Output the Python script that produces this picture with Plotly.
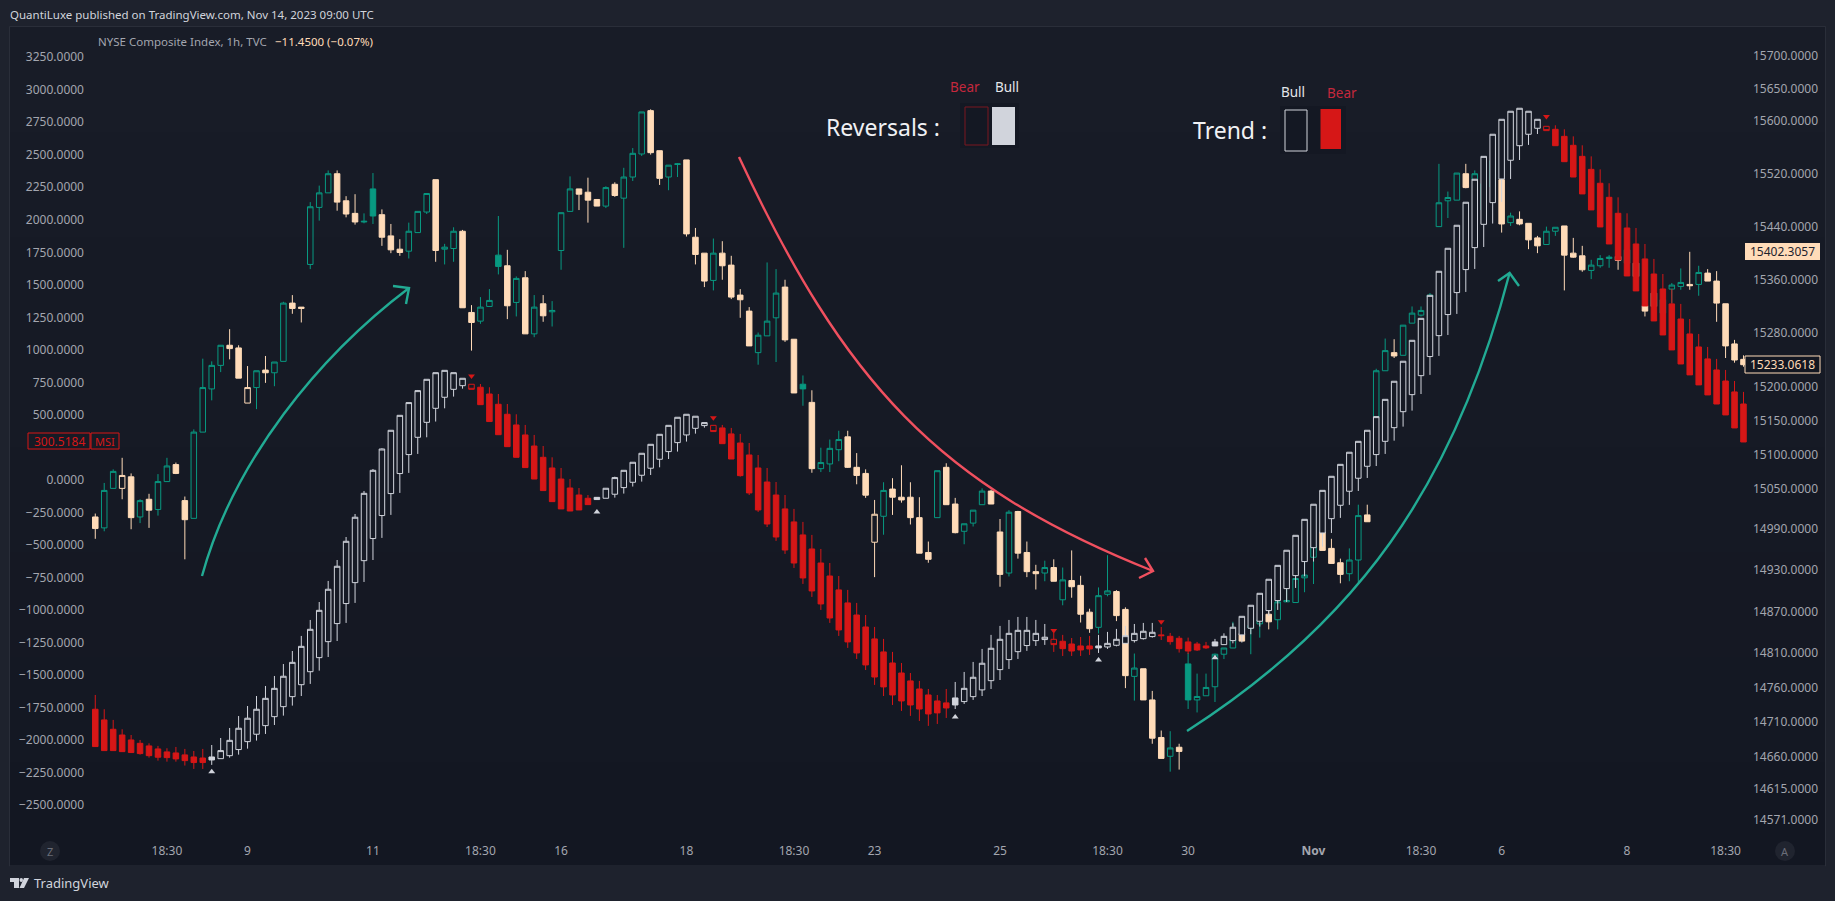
import plotly.graph_objects as go

# ---------- data ----------
price_kind = ("bggBbgbggb" "bggggbbBgb" "ggbbgggbbb" "gGbbbgggbg" "gbbggGbgbg"
              "bgggbbbgbg" "ggbbggbbbg" "bbbbgggbbG" "bgggbbbBgb" "bbbbgbbggg"
              "bbgbbbgbgb" "bbggbbgbbb" "gbGgggggbg" "gbgggggbbb" "ggbggbgggg"
              "gggbgggbgb" "bbggbbbggg" "bgbbbggg" "bg" "bbbbb")
price_top = [15008,15047,15075,15069,15067,15032,15034,15060,15083,15085,
 15032,15133,15199,15232,15262,15262,15258,15199,15224,15225,
 15237,15325,15325,15319,15470,15491,15520,15520,15479,15460,
 15448,15497,15458,15426,15406,15433,15463,15490,15511,15409,
 15433,15433,15311,15319,15329,15397,15381,15362,15363,15319,
 15324,15314,15461,15497,15497,15492,15481,15499,15504,15515,
 15551,15614,15616,15555,15533,15535,15541,15424,15400,15400,
 15400,15382,15337,15313,15277,15298,15340,15349,15271,15204,
 15177,15088,15109,15122,15126,15081,15072,15012,15047,15049,
 15037,15037,15007,14956,15076,15081,15027,14998,15018,15046,
 15046,14986,15015,15016,14956,14928,14934,14934,14916,14915,
 14908,14869,14893,14900,14899,14873,14788,14787,14742,14688,
 14673,14674,14794,14747,14760,14808,14817,14830,14838,14850,
 14858,14866,14884,14886,14918,14923,14965,14986,14962,14941,
 14945,15010,15011,15224,15254,15251,15292,15310,15314,15337,
 15476,15484,15521,15520,15520,15505,15540,15511,15456,15451,
 15445,15423,15433,15439,15441,15400,15396,15382,15392,15394,
 15395,15405,15385,15321,15340,15330,15352,15356,15353,15371,
 15370,15358,15324,15264,15241]
price_bottom = [14991,14992,15050,15050,15007,15008,15018,15019,15060,15072,
 15004,15006,15133,15197,15232,15257,15213,15176,15199,15221,
 15221,15238,15317,15317,15383,15469,15491,15477,15459,15447,
 15447,15456,15424,15405,15401,15403,15431,15462,15404,15406,
 15407,15318,15296,15298,15320,15380,15321,15326,15279,15279,
 15306,15312,15404,15463,15489,15480,15471,15471,15487,15483,
 15515,15550,15552,15513,15515,15534,15429,15398,15358,15359,
 15381,15334,15330,15261,15251,15276,15303,15270,15191,15197,
 15079,15079,15086,15107,15081,15069,15040,14971,15009,15037,
 15033,15007,14955,14946,15007,15026,14985,14987,14999,15026,
 15027,14924,14926,14955,14928,14925,14926,14914,14887,14906,
 14866,14845,14847,14895,14864,14777,14776,14742,14687,14658,
 14661,14668,14742,14742,14748,14761,14808,14817,14827,14846,
 14852,14855,14858,14884,14883,14919,14949,14959,14940,14924,
 14925,14945,15001,15156,15224,15246,15247,15295,15307,15334,
 15440,15479,15480,15499,15511,15465,15500,15444,15446,15444,
 15420,15411,15413,15433,15397,15394,15375,15374,15381,15392,
 15389,15385,15365,15313,15320,15310,15346,15350,15351,15353,
 15358,15325,15261,15240,15233]
price_high = [15013,15058,15078,15095,15072,15034,15042,15071,15095,15088,
 15038,15137,15242,15238,15262,15286,15262,15231,15224,15246,
 15237,15327,15337,15319,15477,15502,15525,15525,15486,15489,
 15460,15521,15466,15444,15421,15446,15463,15490,15511,15414,
 15439,15435,15322,15334,15346,15456,15405,15365,15373,15337,
 15337,15328,15461,15516,15497,15514,15481,15501,15507,15529,
 15559,15614,15618,15555,15533,15536,15541,15438,15400,15422,
 15418,15396,15346,15319,15281,15386,15376,15360,15271,15217,
 15195,15110,15122,15135,15135,15102,15078,15033,15059,15065,
 15084,15059,15037,14972,15076,15087,15036,14998,15018,15050,
 15048,15005,15018,15017,14972,14938,14944,14946,14934,14959,
 14922,14874,14905,14952,14901,14876,14809,14787,14755,14698,
 14697,14679,14810,14780,14780,14809,14817,14855,14838,14855,
 14865,14872,14887,14904,14923,14945,14967,14998,14976,14947,
 14962,15026,15026,15227,15272,15271,15292,15320,15320,15340,
 15535,15493,15521,15535,15525,15510,15545,15511,15461,15463,
 15445,15426,15440,15439,15441,15423,15411,15390,15397,15397,
 15397,15405,15385,15321,15340,15330,15355,15377,15402,15381,
 15376,15373,15324,15270,15247]
price_low = [14976,14987,15050,15034,14990,14999,14992,15010,15060,15071,
 14946,15006,15133,15180,15222,15241,15213,15176,15167,15206,
 15201,15238,15309,15296,15376,15449,15491,15464,15454,15443,
 15445,15444,15411,15400,15396,15392,15431,15459,15387,15383,
 15387,15318,15254,15294,15320,15368,15301,15305,15279,15274,
 15297,15290,15375,15463,15465,15446,15471,15468,15485,15408,
 15509,15547,15549,15503,15495,15515,15425,15383,15349,15344,
 15360,15331,15303,15261,15233,15276,15237,15267,15191,15172,
 15073,15074,15074,15090,15080,15056,15036,14920,14982,15011,
 15029,14997,14955,14941,15007,15026,14984,14968,14994,15026,
 15027,14906,14921,14947,14920,14902,14914,14914,14879,14890,
 14854,14839,14838,14892,14856,14759,14741,14742,14679,14658,
 14639,14642,14729,14724,14748,14739,14801,14817,14827,14808,
 14832,14844,14844,14884,14883,14898,14910,14959,14940,14911,
 14914,14913,15001,15156,15224,15243,15247,15295,15305,15330,
 15440,15453,15480,15498,15511,15455,15490,15431,15441,15442,
 15406,15400,15413,15426,15344,15393,15372,15361,15378,15378,
 15375,15385,15365,15305,15320,15310,15325,15345,15345,15336,
 15358,15297,15243,15236,15230]

msi_kind = ("R"*13 + "W" + "h"*28 + "r" + "R"*13 + "W" + "h"*12 + "r" + "R"*26 + "W" +
            "h"*10 + "r" + "R"*4 + "W" + "h"*6 + "R"*6 + "W" + "h"*36 + "r" + "R"*22)
msi_top = [-1765,-1847,-1919,-1963,-2001,-2027,-2047,-2070,-2093,-2101,
 -2116,-2132,-2140,-2132,-2083,-2004,-1911,-1834,-1765,-1681,
 -1604,-1511,-1404,-1281,-1150,-1004,-842,-665,-473,-288,
 -104,73,237,381,496,594,686,773,824,842,
 824,781,735,712,660,581,504,422,345,260,
 173,91,6,-63,-117,-142,-135,-65,17,73,
 135,204,273,350,419,481,504,489,440,419,
 399,353,283,191,91,-17,-117,-224,-324,-424,
 -532,-640,-740,-847,-947,-1040,-1132,-1224,-1324,-1409,
 -1486,-1547,-1609,-1655,-1701,-1716,-1678,-1604,-1519,-1411,
 -1296,-1227,-1181,-1158,-1158,-1181,-1211,-1227,-1242,-1263,
 -1278,-1278,-1278,-1258,-1227,-1199,-1181,-1165,-1173,-1193,
 -1204,-1219,-1247,-1263,-1278,-1247,-1204,-1134,-1050,-965,
 -873,-765,-658,-542,-427,-304,-188,-81,27,119,
 212,296,381,486,619,758,912,1073,1242,1419,
 1604,1781,1958,2135,2312,2488,2658,2773,2835,2858,
 2835,2773,2719,2696,2642,2573,2488,2388,2281,2173,
 2050,1937,1814,1699,1583,1468,1353,1237,1122,1022,
 930,845,760,676,583]
msi_bottom = [-2052,-2083,-2083,-2091,-2098,-2106,-2122,-2134,-2137,-2147,
 -2160,-2175,-2175,-2155,-2145,-2122,-2075,-2014,-1957,-1891,
 -1822,-1745,-1668,-1576,-1476,-1368,-1245,-1106,-952,-791,
 -622,-452,-275,-106,48,194,327,442,550,635,
 696,724,696,578,448,347,255,173,94,6,
 -83,-168,-224,-240,-232,-191,-152,-142,-111,-60,
 -19,35,89,158,217,286,345,396,417,371,
 278,160,32,-101,-232,-340,-440,-540,-640,-755,
 -855,-955,-1063,-1155,-1247,-1332,-1424,-1517,-1593,-1655,
 -1701,-1732,-1763,-1801,-1793,-1755,-1732,-1706,-1668,-1616,
 -1545,-1460,-1383,-1322,-1275,-1237,-1229,-1268,-1299,-1317,
 -1309,-1301,-1293,-1286,-1273,-1258,-1237,-1222,-1206,-1199,
 -1245,-1299,-1317,-1309,-1293,-1278,-1268,-1237,-1193,-1142,
 -1088,-1006,-929,-837,-737,-629,-522,-409,-299,-196,
 -88,12,104,194,296,401,524,655,801,948,
 1109,1271,1440,1617,1786,1965,2132,2314,2458,2570,
 2658,2704,2686,2570,2447,2329,2199,2076,1945,1814,
 1691,1568,1453,1337,1222,1114,999,891,807,730,
 653,583,499,399,291]
msi_high = [-1655,-1765,-1847,-1919,-1963,-2001,-2027,-2047,-2065,-2055,
 -2070,-2086,-2070,-2040,-1986,-1909,-1817,-1740,-1663,-1586,
 -1509,-1417,-1317,-1201,-1078,-940,-778,-617,-440,-263,
 -86,83,242,381,496,594,691,773,824,842,
 824,781,735,737,712,660,583,504,422,345,
 260,173,91,6,-63,-117,-135,-65,24,73,
 135,204,273,350,419,481,504,489,440,419,
 422,399,353,283,191,91,-17,-117,-224,-324,
 -424,-532,-640,-740,-847,-947,-1040,-1132,-1224,-1324,
 -1409,-1486,-1547,-1609,-1655,-1609,-1555,-1478,-1401,-1301,
 -1193,-1124,-1078,-1055,-1055,-1078,-1109,-1175,-1193,-1217,
 -1209,-1201,-1193,-1170,-1147,-1124,-1109,-1101,-1101,-1132,
 -1178,-1201,-1214,-1247,-1247,-1224,-1181,-1104,-1050,-965,
 -873,-765,-658,-542,-427,-304,-188,-81,27,119,
 212,296,381,486,619,758,912,1073,1242,1419,
 1604,1781,1958,2135,2312,2488,2658,2773,2835,2858,
 2835,2773,2719,2727,2696,2642,2573,2488,2388,2281,
 2173,2050,1937,1814,1699,1583,1468,1353,1237,1122,
 1022,930,845,760,676]
msi_low = [-2052,-2083,-2083,-2091,-2098,-2114,-2137,-2160,-2168,-2168,
 -2198,-2224,-2224,-2193,-2145,-2137,-2114,-2068,-2006,-1955,
 -1886,-1814,-1737,-1663,-1570,-1468,-1363,-1240,-1101,-947,
 -786,-617,-447,-270,-101,53,199,327,448,550,
 640,701,696,578,448,347,255,173,94,6,
 -83,-168,-224,-240,-232,-191,-152,-142,-137,-106,
 -52,-14,37,96,160,217,294,355,401,371,
 278,160,24,-117,-247,-363,-470,-570,-678,-801,
 -901,-1001,-1101,-1201,-1293,-1378,-1463,-1578,-1663,-1732,
 -1778,-1816,-1855,-1893,-1878,-1832,-1763,-1724,-1693,-1663,
 -1609,-1540,-1455,-1378,-1316,-1278,-1270,-1324,-1355,-1355,
 -1355,-1347,-1332,-1301,-1281,-1258,-1252,-1229,-1214,-1232,
 -1268,-1329,-1340,-1317,-1301,-1278,-1268,-1258,-1252,-1188,
 -1129,-1047,-1001,-940,-832,-742,-629,-514,-409,-293,
 -193,-86,14,106,199,301,409,532,660,807,
 953,1114,1276,1445,1622,1791,1971,2137,2314,2460,
 2576,2660,2686,2570,2447,2329,2199,2076,1945,1814,
 1691,1568,1453,1337,1222,1114,999,891,807,730,
 653,583,499,399,291]

bull_marks_idx = [13, 56, 96, 112, 125]
bull_marks_val = [-2245, -247, -1824, -1386, -1368]
bear_marks_idx = [42, 69, 107, 119, 162]
bear_marks_val = [799, 478, -1160, -1091, 2794]

time_tick_idx = [8, 17, 31, 43, 52, 66, 78, 87, 101, 113, 122, 136, 148, 157, 171, 182]
time_tick_txt = ["18:30", "9", "11", "18:30", "16", "18", "18:30", "23", "25", "18:30",
                 "30", "<b>Nov</b>", "18:30", "6", "8", "18:30"]
left_ticks = [3250, 3000, 2750, 2500, 2250, 2000, 1750, 1500, 1250, 1000, 750, 500, 0,
              -250, -500, -750, -1000, -1250, -1500, -1750, -2000, -2250, -2500]
right_ticks = [15700, 15650, 15600, 15520, 15440, 15360, 15280, 15200, 15150, 15100, 15050,
               14990, 14930, 14870, 14810, 14760, 14710, 14660, 14615, 14571]

# ---------- styling ----------
W, H = 1835, 901
FRAME = "#1e222d"
HOLLOW = "#161a25"
GREEN = "#089981"
BEIGE = "#ffdbb8"
RED = "#d61717"
WHITE = "#d1d4dc"
FONT = "Noto Sans"
AXISC = "#a3a6af"


def fx(px):
    return px / W


def fy(py):
    return 1 - py / H


def sticks(kinds, key, up, line, fill, top, bottom, high, low, axis):
    idx = [i for i, k in enumerate(kinds) if k == key]
    t = [top[i] for i in idx]
    b = [bottom[i] for i in idx]
    style = dict(line=dict(color=line, width=1), fillcolor=fill)
    return go.Candlestick(
        x=idx,
        open=b if up else t,
        close=t if up else b,
        high=[high[i] for i in idx],
        low=[low[i] for i in idx],
        increasing=style,
        decreasing=style,
        whiskerwidth=0,
        hoverinfo="skip",
        showlegend=False,
        yaxis=axis,
        xaxis="x",
    )


fig = go.Figure()
for key, up, line, fill in [
    ("g", True, GREEN, "rgba(0,0,0,0)"),
    ("G", False, GREEN, GREEN),
    ("b", False, BEIGE, BEIGE),
    ("B", True, BEIGE, "rgba(0,0,0,0)"),
]:
    fig.add_trace(sticks(price_kind, key, up, line, fill, price_top, price_bottom,
                         price_high, price_low, "y"))
for key, up, line, fill in [
    ("h", True, WHITE, HOLLOW),
    ("W", True, WHITE, WHITE),
    ("R", False, RED, RED),
    ("r", False, RED, HOLLOW),
]:
    fig.add_trace(sticks(msi_kind, key, up, line, fill, msi_top, msi_bottom,
                         msi_high, msi_low, "y2"))
fig.add_trace(go.Scatter(x=bull_marks_idx, y=bull_marks_val, mode="markers", yaxis="y2",
                         marker=dict(symbol="triangle-up", size=6, color=WHITE),
                         hoverinfo="skip", showlegend=False))
fig.add_trace(go.Scatter(x=bear_marks_idx, y=bear_marks_val, mode="markers", yaxis="y2",
                         marker=dict(symbol="triangle-down", size=6, color=RED),
                         hoverinfo="skip", showlegend=False))

shapes = []


def rect(x0, y0, x1, y1, fill=None, line=None, lw=1, layer="above"):
    shapes.append(dict(type="rect", xref="paper", yref="paper", x0=fx(x0), x1=fx(x1),
                       y0=fy(y1), y1=fy(y0), fillcolor=fill or "rgba(0,0,0,0)",
                       line=dict(color=line or "rgba(0,0,0,0)", width=lw if line else 0),
                       layer=layer))


def bezier(p0, c1, c2, p3, color, width=2.4):
    d = "M %.5f %.5f C %.5f %.5f %.5f %.5f %.5f %.5f" % (
        fx(p0[0]), fy(p0[1]), fx(c1[0]), fy(c1[1]), fx(c2[0]), fy(c2[1]), fx(p3[0]), fy(p3[1]))
    shapes.append(dict(type="path", xref="paper", yref="paper", path=d,
                       line=dict(color=color, width=width), layer="above"))


def polyline(points, color, width=2.4):
    d = "M " + " L ".join("%.5f %.5f" % (fx(a), fy(b)) for a, b in points)
    shapes.append(dict(type="path", xref="paper", yref="paper", path=d,
                       line=dict(color=color, width=width), layer="above"))


def poly(points, fill):
    d = "M " + " L ".join("%.5f %.5f" % (fx(a), fy(b)) for a, b in points) + " Z"
    shapes.append(dict(type="path", xref="paper", yref="paper", path=d, fillcolor=fill,
                       line=dict(width=0), layer="above"))


# pane background: soft vertical gradient and border
bands = ["#181c27", "#171b26", "#161a25", "#161a25", "#151924", "#151823", "#141823", "#131722"]
for n, c in enumerate(bands):
    rect(10, 27 + n * 105, 1825, 27 + (n + 1) * 105, fill=c, layer="below")
rect(9.5, 26.5, 1825.5, 866, line="#2a2e39", lw=1, layer="below")

# hand-drawn arrows
TEAL = "#22ab94"
PINK = "#f0505f"
bezier((202, 576), (234, 460), (319, 356), (409, 288), TEAL)
polyline([(393, 286), (409, 288), (406, 304)], TEAL)
bezier((739, 157), (844, 382), (937, 485), (1153, 571), PINK)
polyline([(1145, 558), (1153, 571), (1139, 578)], PINK)
bezier((1187, 731), (1355, 623), (1453.6, 489), (1509.6, 273), TEAL)
polyline([(1498, 281), (1509.6, 273), (1519, 286)], TEAL)

# legend swatches
rect(960, 103, 1019, 148, fill="#141823")
rect(965, 107, 988, 145, line="#7a1620")
rect(992, 107, 1015, 145, fill=WHITE)
rect(1280, 106, 1346, 154, fill="#141823")
rect(1285, 110, 1307, 151, line=WHITE)
rect(1320.5, 109, 1341, 149, fill=RED)

# value-pill boxes
rect(1745, 243, 1820, 260, fill=BEIGE)
rect(1745, 356, 1820, 373, fill="#131722", line=BEIGE)
rect(28, 433, 90, 449, line=RED)
rect(91, 433, 119, 449, line=RED)

# round pane buttons
for cx in (50, 1785):
    shapes.append(dict(type="circle", xref="paper", yref="paper", x0=fx(cx - 10), x1=fx(cx + 10),
                       y0=fy(861), y1=fy(841), fillcolor="#20242f", line=dict(width=0)))

# TradingView mark
poly([(10, 878), (19, 878), (19, 888), (14, 888), (14, 882), (10, 882)], WHITE)
poly([(24, 878), (29, 878), (24, 888), (19.5, 888)], WHITE)
shapes.append(dict(type="circle", xref="paper", yref="paper", x0=fx(19.5), x1=fx(23),
                   y0=fy(882), y1=fy(878), fillcolor=WHITE, line=dict(width=0)))

notes = []


def label(px, py, s, size=12, color=AXISC, anchor="left", family=FONT):
    notes.append(dict(xref="paper", yref="paper", x=fx(px), y=fy(py), text=s, showarrow=False,
                      xanchor=anchor, yanchor="middle", borderpad=0,
                      font=dict(family=family, size=size, color=color)))


label(9, 15, "QuantiLuxe published on TradingView.com, Nov 14, 2023 09:00 UTC", 11.5, "#d1d4dc")
label(97, 42, "NYSE Composite Index, 1h, TVC", 11.5, "#a3a6af")
label(274, 42, "−11.4500 (−0.07%)", 11.5, BEIGE)
label(33, 883, "TradingView", 13, "#d1d4dc")
label(825, 127, "Reversals :", 23, "#f0f1f4")
label(1192, 130, "Trend :", 23, "#f0f1f4")
label(949, 87, "Bear", 13.5, "#c5283d")
label(994, 87, "Bull", 13.5, "#e4e6ea")
label(1280, 92, "Bull", 13.5, "#e4e6ea")
label(1326, 93, "Bear", 13.5, "#c5283d")
label(1782, 251.5, "15402.3057", 12, "#1e222d", "center")
label(1782, 364.5, "15233.0618", 12, BEIGE, "center")
label(59, 441, "300.5184", 12, RED, "center")
label(105, 441, "MSI", 11, RED, "center")
label(50, 851, "Z", 11, "#6a6d78", "center")
label(1785, 851, "A", 11, "#6a6d78", "center")

fig.update_layout(
    width=W, height=H, autosize=False,
    margin=dict(l=0, r=0, t=0, b=0, pad=0),
    paper_bgcolor=FRAME, plot_bgcolor="rgba(0,0,0,0)",
    showlegend=False, boxgap=0.12, hovermode=False,
    font=dict(family=FONT, color=AXISC, size=12),
    shapes=shapes, annotations=notes,
    xaxis=dict(domain=[10 / W, 1825 / W], range=[-9.52, 193.1], rangeslider=dict(visible=False),
               showgrid=False, zeroline=False, showline=False, ticks="",
               anchor="free", position=fy(842),
               tickmode="array", tickvals=time_tick_idx, ticktext=time_tick_txt,
               tickangle=0, tickfont=dict(size=12, color=AXISC)),
    yaxis=dict(domain=[fy(865), fy(27)], type="log", range=[4.16155, 4.19712],
               anchor="free", position=1752 / W, side="right",
               showgrid=False, zeroline=False, showline=False, ticks="",
               tickmode="array", tickvals=right_ticks,
               ticktext=[f"{v:.4f}" for v in right_ticks],
               tickfont=dict(size=12, color=AXISC)),
    yaxis2=dict(domain=[fy(865), fy(27)], range=[-2963, 3483], overlaying="y",
                anchor="free", position=84 / W, side="left",
                showgrid=False, zeroline=False, showline=False, ticks="",
                tickmode="array", tickvals=left_ticks,
                ticktext=[f"{v:.4f}".replace("-", "−") for v in left_ticks],
                tickfont=dict(size=12, color=AXISC)),
)

fig.write_html("out.html", config=dict(displayModeBar=False),
               post_script="document.body.style.margin='0';document.body.style.overflow='hidden';")
